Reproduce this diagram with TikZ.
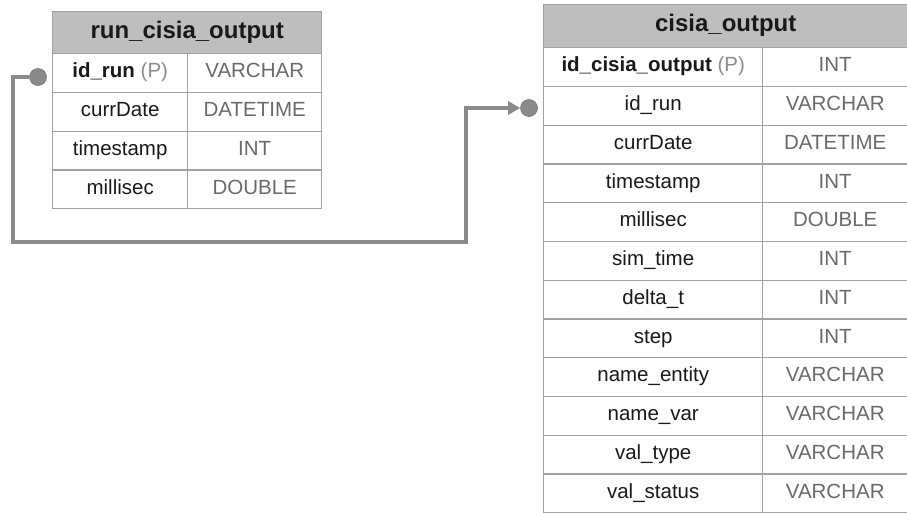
\documentclass[tikz,border=0pt]{standalone}
\usepackage{fontspec}
\setmainfont{Liberation Sans}
\usetikzlibrary{arrows.meta}
\definecolor{headgray}{HTML}{BEBEBE}
\definecolor{gridgray}{HTML}{A2A2A2}
\definecolor{typegray}{HTML}{6A6A6A}
\definecolor{pgray}{HTML}{8C8C8C}
\definecolor{linkgray}{HTML}{8A8A8A}
\tikzset{
  cell/.style={draw=gridgray,line width=1.4pt,anchor=north west,inner sep=0pt,
    minimum height=38.75pt,text height=14pt,text depth=4.5pt,
    text=black!90,font=\fontsize{20.5}{22}\selectfont},
  typecell/.style={cell,text=typegray},
  headcell/.style={cell,fill=headgray,text height=16.5pt,text depth=5pt,
    font=\bfseries\fontsize{24}{26}\selectfont},
  dot/.style={circle,fill=linkgray,draw=linkgray!85!black,line width=0.6pt,
    minimum size=17pt,inner sep=0pt},
  link/.style={draw=linkgray,line width=3.6pt},
}
\begin{document}
\begin{tikzpicture}[x=1pt,y=-1pt]
\useasboundingbox (0,0) rectangle (907,512);
		% run_cisia_output
		\node[headcell,minimum width=269pt,minimum height=42pt](lhead)at(52,11){run\_cisia\_output};
		\foreach \n/\t [count=\i] in {{\textbf{id\_run} \textcolor{pgray}{(P)}}/VARCHAR,currDate/DATETIME,timestamp/INT,millisec/DOUBLE}{
			\node[cell,minimum width=135pt](ln\i)at(52,53+\i*38.75-38.75){\n};
			\node[typecell,minimum width=134pt](lt\i)at(187,53+\i*38.75-38.75){\t};
		}
		% cisia_output
		\node[headcell,minimum width=364pt,minimum height=43pt](rhead)at(543,4){cisia\_output};
		\foreach \n/\t [count=\i] in {{\textbf{id\_cisia\_output} \textcolor{pgray}{(P)}}/INT,id\_run/VARCHAR,currDate/DATETIME,timestamp/INT,millisec/DOUBLE,sim\_time/INT,delta\_t/INT,step/INT,name\_entity/VARCHAR,name\_var/VARCHAR,val\_type/VARCHAR,val\_status/VARCHAR}{
			\node[cell,minimum width=219pt](rn\i)at(543,47+\i*38.75-38.75){\n};
			\node[typecell,minimum width=145pt](rt\i)at(762,47+\i*38.75-38.75){\t};
		}
		% link
		\node[dot](from)at(38,77){};
		\node[dot](to)at(529,108){};
		\coordinate(bl)at(13,242);
		\coordinate(br)at(466,242);
		\draw[link,-{Triangle[length=12pt,width=13pt]}](from.west)-|(bl)--(br)|-(to.west);
\end{tikzpicture}
\end{document}
